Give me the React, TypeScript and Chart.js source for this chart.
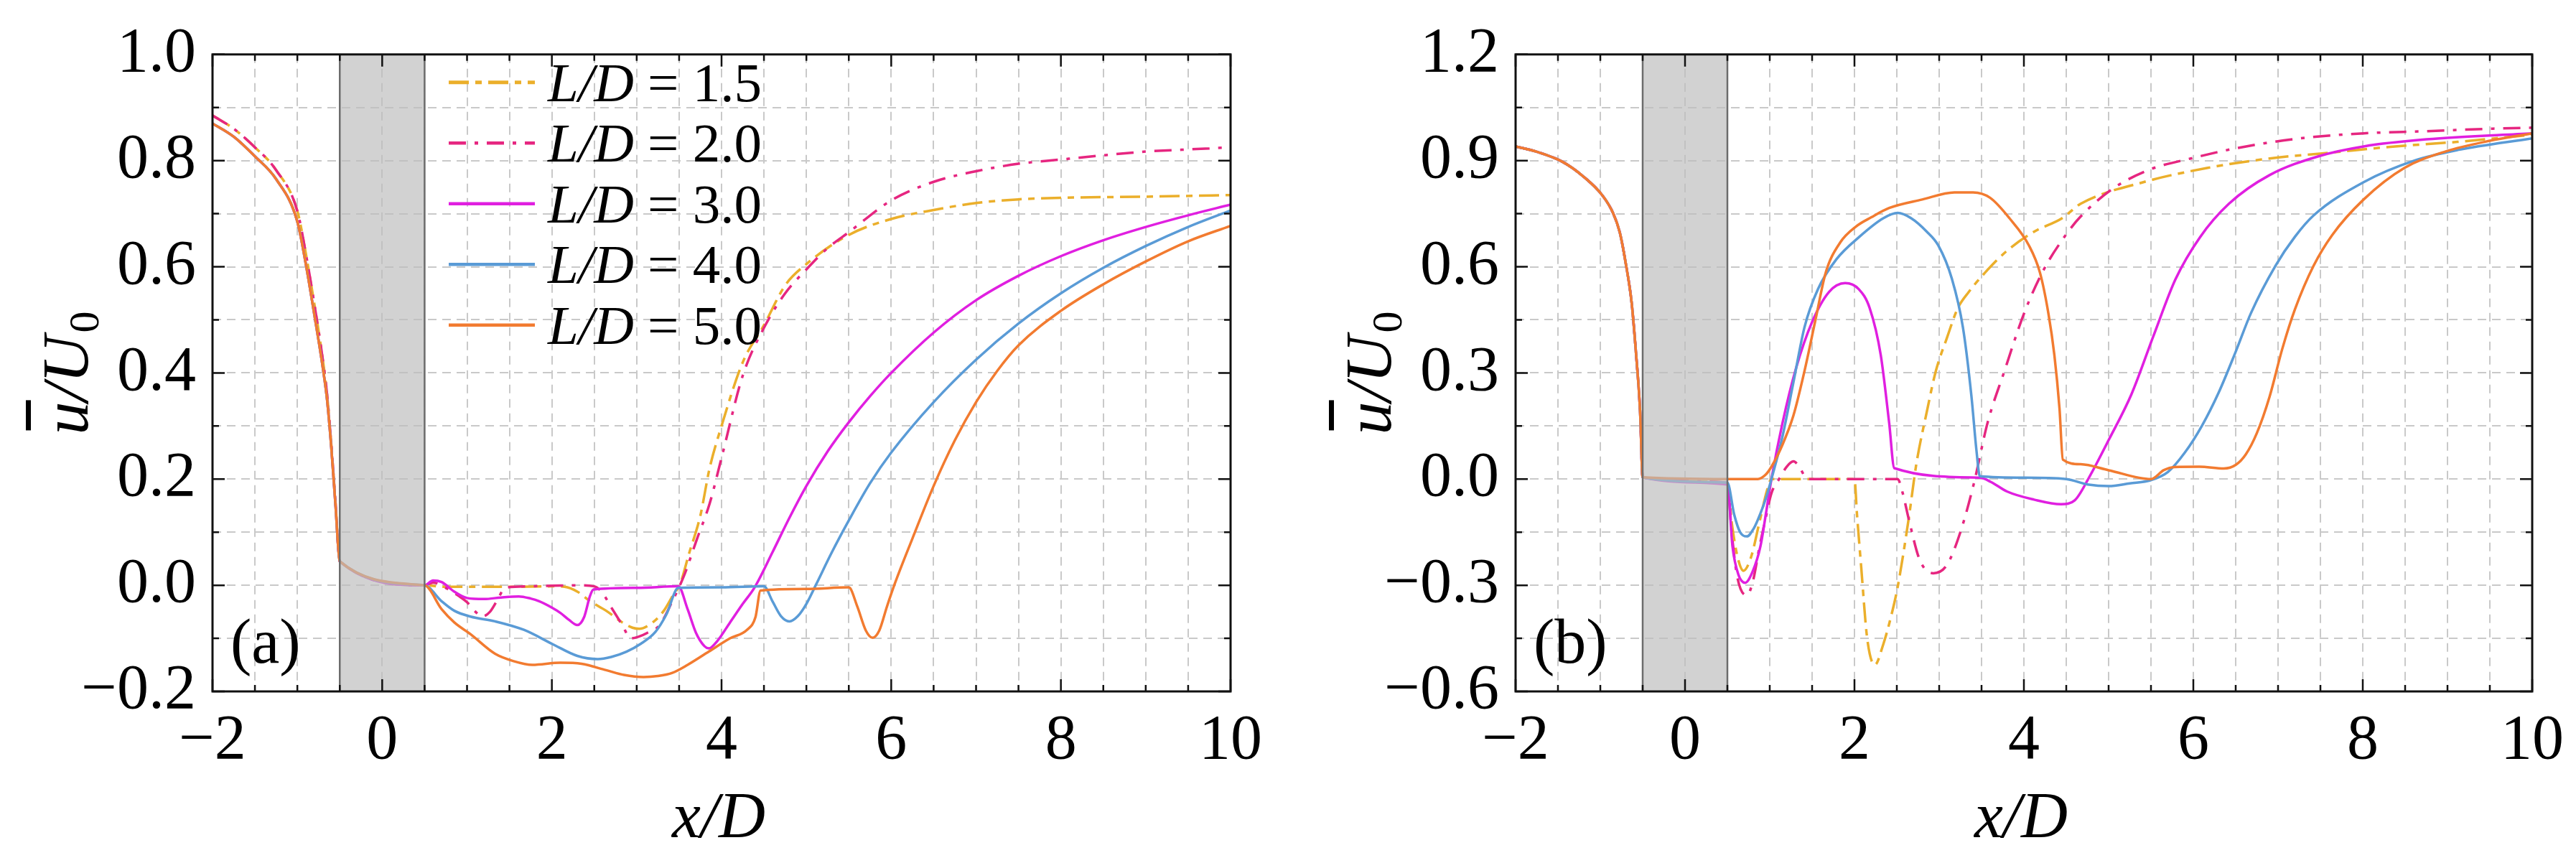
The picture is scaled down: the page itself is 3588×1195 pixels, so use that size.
import React, { useEffect, useRef } from "react";
import { Chart, registerables } from "chart.js";

Chart.register(...registerables);

// ---------------- data ----------------
const SERIES_LD = ["1.5", "2.0", "3.0", "4.0", "5.0"];
const COLORS = ["#EBAF2B", "#E62680", "#E01FE0", "#5A9BD6", "#F27B30"];
const DASHES: number[][] = [[28, 9, 9, 9], [24, 12, 5, 12], [], [], []];
const BODY_X = [-0.5, 0.5];

const X_LABEL_STEP = 2;

// Panel (a) shared upstream part
const PRE_A_X = [-2, -1.75, -1.5, -1.25, -1.0, -0.9, -0.8, -0.7, -0.65, -0.6, -0.55, -0.5, 0.5];
const PRE_A_Y = [0.87, 0.845, 0.808, 0.765, 0.685, 0.605, 0.51, 0.41, 0.35, 0.26, 0.15, 0.045, 0.0];
const PRE_A_Y_DD = [0.885, 0.86, 0.825, 0.782, 0.705, 0.625, 0.53, 0.425, 0.36, 0.265, 0.155, 0.045, 0.0];

const A15_X = [0.75, 1.0, 1.5, 2.0, 2.15, 2.3, 2.45, 2.64, 2.83, 2.95, 3.03, 3.18, 3.32, 3.42, 3.52, 3.61, 3.75, 3.86, 4.0, 4.25, 4.5, 4.75, 5.0, 5.5, 6.0, 6.5, 7.0, 7.5, 8.0, 9.0, 10.0];
const A15_Y = [-0.003, -0.003, -0.003, -0.002, -0.003, -0.012, -0.03, -0.048, -0.07, -0.08, -0.082, -0.071, -0.048, -0.021, 0.006, 0.056, 0.131, 0.221, 0.3, 0.42, 0.49, 0.565, 0.605, 0.66, 0.69, 0.707, 0.72, 0.727, 0.73, 0.732, 0.735];

const A20_X = [0.6, 0.75, 0.9, 1.0, 1.1, 1.18, 1.27, 1.35, 1.45, 1.7, 2.0, 2.32, 2.5, 2.6, 2.69, 2.83, 2.93, 3.02, 3.12, 3.27, 3.42, 3.56, 3.71, 3.86, 4.0, 4.25, 4.5, 4.75, 5.0, 5.25, 5.5, 6.0, 6.5, 7.0, 7.5, 8.0, 8.5, 9.0, 9.5, 10.0];
const A20_Y = [0.005, -0.005, -0.02, -0.032, -0.05, -0.059, -0.05, -0.03, -0.005, -0.002, -0.001, 0, -0.002, -0.015, -0.039, -0.075, -0.1, -0.097, -0.09, -0.075, -0.03, 0.019, 0.087, 0.154, 0.24, 0.395, 0.485, 0.55, 0.595, 0.635, 0.665, 0.725, 0.76, 0.78, 0.794, 0.802, 0.81, 0.817, 0.821, 0.825];

const A30_X = [0.6, 0.7, 0.85, 1.0, 1.2, 1.4, 1.61, 1.75, 1.85, 2.0, 2.1, 2.2, 2.3, 2.38, 2.45, 2.49, 3.0, 3.49, 3.6, 3.7, 3.8, 3.85, 3.95, 4.1, 4.25, 4.39, 4.6, 4.8, 5.0, 5.25, 5.5, 5.75, 6.0, 6.5, 7.0, 7.5, 8.0, 8.5, 9.0, 9.5, 10.0];
const A30_Y = [0.009, 0.006, -0.012, -0.024, -0.026, -0.023, -0.021, -0.025, -0.03, -0.042, -0.052, -0.065, -0.075, -0.06, -0.02, -0.008, -0.005, -0.002, -0.045, -0.09, -0.115, -0.119, -0.105, -0.07, -0.035, -0.004, 0.062, 0.127, 0.187, 0.252, 0.307, 0.356, 0.4, 0.476, 0.537, 0.583, 0.62, 0.65, 0.675, 0.697, 0.717];

const A40_X = [0.7, 0.85, 1.04, 1.33, 1.67, 2.01, 2.3, 2.54, 2.7, 2.88, 3.05, 3.22, 3.35, 3.49, 4.0, 4.5, 4.6, 4.7, 4.8, 4.9, 5.0, 5.11, 5.3, 5.5, 5.75, 6.0, 6.5, 7.0, 7.5, 8.0, 8.5, 9.0, 9.5, 10.0];
const A40_Y = [-0.03, -0.048, -0.059, -0.068, -0.084, -0.111, -0.133, -0.139, -0.135, -0.125, -0.11, -0.088, -0.055, -0.005, -0.004, -0.002, -0.03, -0.058, -0.068, -0.058, -0.035, 0.0, 0.062, 0.122, 0.192, 0.25, 0.345, 0.425, 0.493, 0.55, 0.598, 0.639, 0.675, 0.706];

const A50_X = [0.7, 0.85, 1.04, 1.33, 1.55, 1.77, 2.1, 2.35, 2.64, 2.85, 3.08, 3.25, 3.42, 3.6, 3.85, 4.1, 4.3, 4.4, 4.46, 5.0, 5.5, 5.6, 5.7, 5.78, 5.86, 5.95, 6.04, 6.25, 6.5, 6.75, 7.0, 7.25, 7.5, 8.0, 8.5, 9.0, 9.5, 10.0];
const A50_Y = [-0.045, -0.07, -0.092, -0.129, -0.143, -0.15, -0.146, -0.148, -0.16, -0.169, -0.173, -0.171, -0.165, -0.15, -0.125, -0.1, -0.084, -0.06, -0.01, -0.007, -0.004, -0.04, -0.085, -0.099, -0.085, -0.04, 0.002, 0.088, 0.187, 0.273, 0.345, 0.404, 0.452, 0.517, 0.567, 0.61, 0.648, 0.677];

// Panel (b) shared upstream part
const PRE_B_X = [-2, -1.75, -1.45, -1.2, -0.97, -0.85, -0.77, -0.7, -0.63, -0.58, -0.53, -0.5];
const PRE_B_Y = [0.94, 0.925, 0.897, 0.855, 0.8, 0.752, 0.697, 0.61, 0.498, 0.36, 0.19, 0.005];

const B15_X = [0.5, 0.55, 0.62, 0.69, 0.78, 0.88, 0.97, 1.02, 1.5, 2.0, 2.03, 2.08, 2.15, 2.24, 2.34, 2.43, 2.51, 2.64, 2.73, 2.86, 2.96, 3.09, 3.22, 3.35, 3.54, 3.8, 4.12, 4.45, 4.67, 5.41, 6.16, 6.9, 7.64, 8.38, 9.12, 10];
const B15_Y = [-0.01, -0.12, -0.22, -0.259, -0.22, -0.12, -0.03, 0, 0, 0, -0.1, -0.25, -0.45, -0.525, -0.467, -0.39, -0.305, -0.112, 0.042, 0.197, 0.305, 0.398, 0.483, 0.529, 0.583, 0.645, 0.699, 0.737, 0.778, 0.839, 0.879, 0.906, 0.923, 0.94, 0.953, 0.973];

const B20_X = [0.5, 0.55, 0.62, 0.73, 0.8, 0.88, 0.95, 1.02, 1.11, 1.2, 1.28, 1.36, 1.44, 2.0, 2.51, 2.57, 2.64, 2.77, 2.93, 3.09, 3.25, 3.41, 3.57, 3.77, 4.0, 4.23, 4.51, 4.67, 5.04, 5.49, 5.97, 6.53, 7.27, 8.01, 8.75, 9.5, 10];
const B20_Y = [-0.01, -0.15, -0.28, -0.328, -0.29, -0.19, -0.112, -0.04, 0, 0.035, 0.05, 0.03, 0, 0, 0, -0.04, -0.112, -0.228, -0.266, -0.243, -0.15, -0.012, 0.158, 0.305, 0.467, 0.59, 0.695, 0.742, 0.819, 0.875, 0.906, 0.936, 0.963, 0.977, 0.983, 0.99, 0.993];

const B30_X = [0.5, 0.56, 0.63, 0.71, 0.8, 0.89, 0.96, 1.02, 1.15, 1.31, 1.5, 1.7, 1.89, 2.05, 2.18, 2.31, 2.41, 2.47, 3.48, 3.61, 3.8, 4.12, 4.44, 4.6, 4.77, 5.0, 5.27, 5.53, 5.79, 6.08, 6.42, 6.9, 7.49, 8.01, 8.75, 10];
const B30_Y = [-0.015, -0.19, -0.27, -0.293, -0.26, -0.19, -0.09, 0, 0.158, 0.313, 0.444, 0.529, 0.554, 0.537, 0.483, 0.351, 0.158, 0.031, 0.004, -0.008, -0.035, -0.058, -0.071, -0.06, 0.005, 0.11, 0.24, 0.405, 0.565, 0.684, 0.778, 0.859, 0.913, 0.94, 0.96, 0.977];

const B40_X = [0.5, 0.58, 0.65, 0.73, 0.81, 0.89, 0.96, 1.02, 1.15, 1.28, 1.41, 1.57, 1.79, 2.05, 2.34, 2.51, 2.67, 2.85, 2.99, 3.15, 3.28, 3.38, 3.44, 3.48, 4.0, 4.5, 4.75, 5.0, 5.25, 5.5, 5.7, 5.9, 6.1, 6.3, 6.5, 6.68, 6.97, 7.2, 7.42, 8.01, 8.61, 9.12, 10];
const B40_Y = [-0.01, -0.1, -0.15, -0.162, -0.14, -0.097, -0.05, 0, 0.12, 0.274, 0.429, 0.537, 0.622, 0.683, 0.737, 0.752, 0.737, 0.7, 0.66, 0.566, 0.429, 0.236, 0.081, 0.008, 0.004, 0.0, -0.015, -0.02, -0.012, -0.003, 0.02, 0.075, 0.15, 0.245, 0.36, 0.469, 0.603, 0.685, 0.745, 0.839, 0.9, 0.93, 0.963];

const B50_X = [0.5, 0.86, 0.95, 1.02, 1.15, 1.28, 1.41, 1.54, 1.66, 1.83, 2.02, 2.2, 2.41, 2.8, 3.18, 3.4, 3.6, 3.83, 4.06, 4.19, 4.29, 4.36, 4.42, 4.46, 4.67, 5.0, 5.5, 5.65, 5.78, 6.07, 6.36, 6.5, 6.62, 6.75, 6.9, 7.05, 7.2, 7.42, 7.64, 8.01, 8.49, 8.98, 9.5, 10];
const B50_Y = [0, 0, 0.012, 0.035, 0.097, 0.18, 0.305, 0.45, 0.583, 0.668, 0.714, 0.74, 0.766, 0.79, 0.81, 0.81, 0.795, 0.737, 0.66, 0.583, 0.467, 0.35, 0.2, 0.055, 0.042, 0.025, 0.0, 0.025, 0.034, 0.035, 0.03, 0.04, 0.07, 0.13, 0.233, 0.368, 0.48, 0.603, 0.69, 0.79, 0.879, 0.926, 0.956, 0.977];

// ---------------- helpers ----------------
const FONT = '"Liberation Serif", "Times New Roman", Times, serif';
const MINUS = "\u2212";

function zip(xs: number[], ys: number[]) {
  return xs.map((x, i) => ({ x, y: ys[i] }));
}

function isMultiple(v: number, step: number) {
  return Math.abs(v / step - Math.round(v / step)) < 1e-6;
}

function xLabel(value: any) {
  const v = Number(value);
  if (!isMultiple(v, X_LABEL_STEP)) return "";
  const r = Math.round(v);
  return r < 0 ? MINUS + Math.abs(r) : String(r);
}

function yLabelFactory(step: number) {
  return (value: any) => {
    const v = Number(value);
    if (!isMultiple(v, step)) return "";
    if (Math.abs(v) < 1e-9) return "0.0";
    const s = Math.abs(v).toFixed(1);
    return v < 0 ? MINUS + s : s;
  };
}

function buildDatasets(panel: "a" | "b") {
  const series =
    panel === "a"
      ? [
          zip([...PRE_A_X, ...A15_X], [...PRE_A_Y_DD, ...A15_Y]),
          zip([...PRE_A_X, ...A20_X], [...PRE_A_Y_DD, ...A20_Y]),
          zip([...PRE_A_X, ...A30_X], [...PRE_A_Y, ...A30_Y]),
          zip([...PRE_A_X, ...A40_X], [...PRE_A_Y, ...A40_Y]),
          zip([...PRE_A_X, ...A50_X], [...PRE_A_Y, ...A50_Y]),
        ]
      : [
          zip([...PRE_B_X, ...B15_X], [...PRE_B_Y, ...B15_Y]),
          zip([...PRE_B_X, ...B20_X], [...PRE_B_Y, ...B20_Y]),
          zip([...PRE_B_X, ...B30_X], [...PRE_B_Y, ...B30_Y]),
          zip([...PRE_B_X, ...B40_X], [...PRE_B_Y, ...B40_Y]),
          zip([...PRE_B_X, ...B50_X], [...PRE_B_Y, ...B50_Y]),
        ];
  return series.map((data, i) => ({
    label: "L/D = " + SERIES_LD[i],
    data,
    borderColor: COLORS[i],
    backgroundColor: COLORS[i],
    borderWidth: 3.5,
    borderDash: DASHES[i],
    pointRadius: 0,
    fill: false,
    cubicInterpolationMode: "monotone" as const,
    order: 5 - i,
  }));
}

type PanelCfg = {
  id: "a" | "b";
  yMin: number;
  yMax: number;
  yMinor: number;
  yMajor: number;
  yAxisWidth: number;
  padRight: number;
  legend: boolean;
};

function decorPlugin(cfg: PanelCfg) {
  return {
    id: "decor_" + cfg.id,
    afterDatasetsDraw(chart: any) {
      const { ctx, chartArea: a, scales } = chart;
      const xs = scales.x;
      const ys = scales.y;
      ctx.save();

      // body shading
      const bx0 = xs.getPixelForValue(BODY_X[0]);
      const bx1 = xs.getPixelForValue(BODY_X[1]);
      ctx.fillStyle = "rgba(188,188,188,0.68)";
      ctx.fillRect(bx0, a.top, bx1 - bx0, a.bottom - a.top);
      ctx.strokeStyle = "#6c6c6c";
      ctx.lineWidth = 2.5;
      ctx.setLineDash([]);
      ctx.beginPath();
      ctx.moveTo(bx0, a.top);
      ctx.lineTo(bx0, a.bottom);
      ctx.moveTo(bx1, a.top);
      ctx.lineTo(bx1, a.bottom);
      ctx.stroke();

      // inward ticks on all four sides
      ctx.strokeStyle = "#111";
      ctx.lineWidth = 2.5;
      ctx.beginPath();
      xs.ticks.forEach((t: any) => {
        const px = xs.getPixelForValue(t.value);
        const len = t.label !== "" ? 17 : 9;
        ctx.moveTo(px, a.bottom);
        ctx.lineTo(px, a.bottom - len);
        ctx.moveTo(px, a.top);
        ctx.lineTo(px, a.top + len);
      });
      ys.ticks.forEach((t: any) => {
        const py = ys.getPixelForValue(t.value);
        const len = t.label !== "" ? 17 : 9;
        ctx.moveTo(a.left, py);
        ctx.lineTo(a.left + len, py);
        ctx.moveTo(a.right, py);
        ctx.lineTo(a.right - len, py);
      });
      ctx.stroke();

      // frame
      ctx.lineWidth = 3;
      ctx.strokeStyle = "#111";
      ctx.strokeRect(a.left, a.top, a.right - a.left, a.bottom - a.top);

      ctx.fillStyle = "#000";
      ctx.textAlign = "left";
      ctx.textBaseline = "alphabetic";

      // legend
      if (cfg.legend) {
        const lx0 = a.left + 329;
        const lx1 = a.left + 449;
        const tx = a.left + 467;
        SERIES_LD.forEach((ld, i) => {
          const ly = a.top + 39 + i * 84.5;
          ctx.strokeStyle = COLORS[i];
          ctx.lineWidth = i === 0 ? 5 : 4.5;
          ctx.setLineDash(DASHES[i]);
          ctx.beginPath();
          ctx.moveTo(lx0, ly);
          ctx.lineTo(lx1, ly);
          ctx.stroke();
          ctx.setLineDash([]);
          ctx.fillStyle = "#000";
          ctx.font = `italic 77px ${FONT}`;
          ctx.fillText("L/D", tx, ly + 26);
          const w = ctx.measureText("L/D").width;
          ctx.font = `77px ${FONT}`;
          ctx.fillText(" = " + ld, tx + w, ly + 26);
        });
      }

      // panel label
      ctx.fillStyle = "#000";
      ctx.font = `88px ${FONT}`;
      ctx.fillText(cfg.id === "a" ? "(a)" : "(b)", a.left + 25, a.bottom - 40);

      // x title
      ctx.font = `italic 90px ${FONT}`;
      ctx.textAlign = "center";
      ctx.fillText("x/D", (a.left + a.right) / 2 - 4, a.bottom + 203);

      // y title (rotated): u-bar / U_0
      ctx.textAlign = "left";
      const baseX = a.left - 174;
      const cy = (a.top + a.bottom) / 2;
      ctx.translate(baseX, cy);
      ctx.rotate(-Math.PI / 2);
      ctx.font = `italic 92px ${FONT}`;
      const wu = ctx.measureText("u").width;
      const wr = ctx.measureText("/U").width;
      ctx.font = `60px ${FONT}`;
      const w0 = ctx.measureText("0").width;
      const total = wu + wr + w0 + 4;
      let x = -total / 2;
      ctx.font = `italic 92px ${FONT}`;
      ctx.fillText("u", x, 0);
      ctx.fillRect(x + 6, -86, wu - 4, 7);
      x += wu;
      ctx.fillText("/U", x, 0);
      x += wr + 4;
      ctx.font = `60px ${FONT}`;
      ctx.fillText("0", x, 15);

      ctx.restore();
    },
  };
}

function makeConfig(cfg: PanelCfg): any {
  const gridOpts = { color: "#c9c9c9", lineWidth: 2, drawTicks: false };
  const borderOpts = { display: false, dash: [12, 8] };
  return {
    type: "line",
    data: { datasets: buildDatasets(cfg.id) },
    options: {
      animation: false,
      responsive: false,
      devicePixelRatio: 1,
      events: [],
      layout: { padding: { top: 71, right: cfg.padRight, left: 0, bottom: 0 } },
      plugins: { legend: { display: false }, tooltip: { enabled: false }, title: { display: false } },
      scales: {
        x: {
          type: "linear",
          min: -2,
          max: 10,
          afterFit: (s: any) => {
            s.height = 232;
          },
          ticks: {
            stepSize: 0.5,
            autoSkip: false,
            maxRotation: 0,
            minRotation: 0,
            padding: 17,
            color: "#000",
            font: { family: FONT, size: 88 },
            callback: xLabel,
          },
          grid: gridOpts,
          border: borderOpts,
        },
        y: {
          type: "linear",
          min: cfg.yMin,
          max: cfg.yMax,
          afterFit: (s: any) => {
            s.width = cfg.yAxisWidth;
          },
          ticks: {
            stepSize: cfg.yMinor,
            autoSkip: false,
            padding: 23,
            color: "#000",
            font: { family: FONT, size: 88 },
            callback: yLabelFactory(cfg.yMajor),
          },
          grid: gridOpts,
          border: borderOpts,
        },
      },
    },
    plugins: [decorPlugin(cfg)],
  };
}

const PANEL_A: PanelCfg = { id: "a", yMin: -0.2, yMax: 1.0, yMinor: 0.1, yMajor: 0.2, yAxisWidth: 296, padRight: 80, legend: true };
const PANEL_B: PanelCfg = { id: "b", yMin: -0.6, yMax: 1.2, yMinor: 0.15, yMajor: 0.3, yAxisWidth: 317, padRight: 58, legend: false };

function Panel({ cfg }: { cfg: PanelCfg }) {
  const ref = useRef<HTMLCanvasElement>(null);
  useEffect(() => {
    const chart = new Chart(ref.current as HTMLCanvasElement, makeConfig(cfg));
    return () => chart.destroy();
  }, [cfg]);
  return <canvas ref={ref} width={1794} height={1195} style={{ display: "block", width: 1794, height: 1195 }} />;
}

export default function App() {
  return (
    <div style={{ position: "fixed", left: 0, top: 0, width: 3588, height: 1195, background: "#fff", display: "flex" }}>
      <Panel cfg={PANEL_A} />
      <Panel cfg={PANEL_B} />
    </div>
  );
}
